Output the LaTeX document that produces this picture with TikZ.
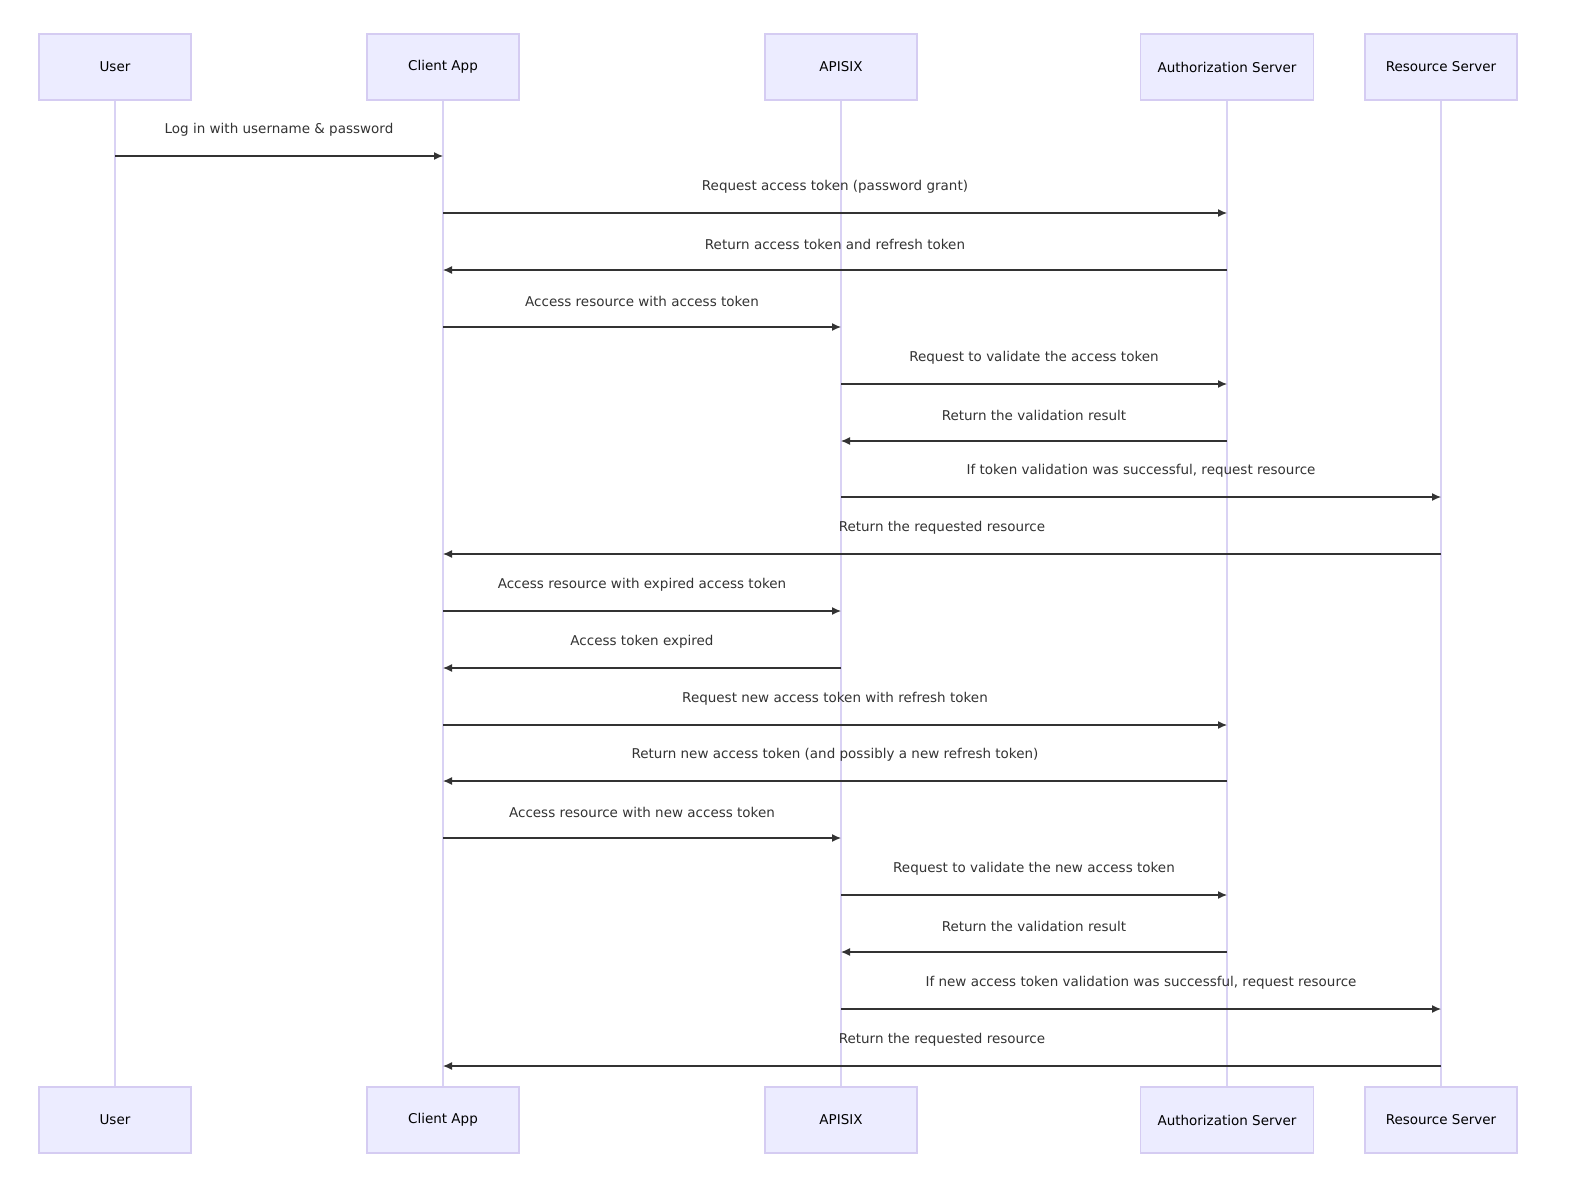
\documentclass[tikz,border=0pt]{standalone}
\usepackage{fontspec}
\setmainfont{DejaVu Sans}
\usetikzlibrary{arrows.meta,calc}
\definecolor{boxfill}{HTML}{ECECFF}
\definecolor{boxline}{HTML}{D5CCF2}
\definecolor{life}{HTML}{D9D2F4}
\definecolor{msg}{HTML}{333333}
\begin{document}
\begin{tikzpicture}[x=1pt,y=-1pt,
  actor/.style={draw=boxline,fill=boxfill,line width=1.2pt,minimum height=66pt,inner sep=0pt,font=\fontsize{13.5}{16}\selectfont,text=black},
  lifeline/.style={draw=life,line width=1.6pt},
  m/.style={draw=msg,line width=1.2pt,-{Latex[length=9pt,width=8pt]}},
  lab/.style={font=\fontsize{13.5}{16}\selectfont,text=msg}]
\useasboundingbox (0,0) rectangle (1585,1199);
\foreach \n/\x/\w/\t in {u/115/152/User,c/443/152/Client App,a/841/152/APISIX,z/1227/173/Authorization Server,r/1441/152/Resource Server}{
  \draw[lifeline] (\x,100) -- (\x,1087);
  \node[actor,minimum width=\w pt] (\n t) at (\x,67) {\t};
  \node[actor,minimum width=\w pt] (\n b) at (\x,1120) {\t};
  \coordinate (\n) at (\x,0);
}
\foreach \f/\g/\y/\t in {
 u/c/156/{Log in with username \& password},
 c/z/213/{Request access token (password grant)},
 z/c/270/{Return access token and refresh token},
 c/a/327/{Access resource with access token},
 a/z/384/{Request to validate the access token},
 z/a/441/{Return the validation result},
 a/r/497/{If token validation was successful, request resource},
 r/c/554/{Return the requested resource},
 c/a/611/{Access resource with expired access token},
 a/c/668/{Access token expired},
 c/z/725/{Request new access token with refresh token},
 z/c/781/{Return new access token (and possibly a new refresh token)},
 c/a/838/{Access resource with new access token},
 a/z/895/{Request to validate the new access token},
 z/a/952/{Return the validation result},
 a/r/1009/{If new access token validation was successful, request resource},
 r/c/1066/{Return the requested resource}}{
  \coordinate (s) at (\f |- 0,\y);
  \coordinate (e) at (\g |- 0,\y);
  \draw[m] (s) -- (e);
  \node[lab] at ($ (s)!0.5!(e) + (0,-26) $) {\t};
}
\end{tikzpicture}
\end{document}
